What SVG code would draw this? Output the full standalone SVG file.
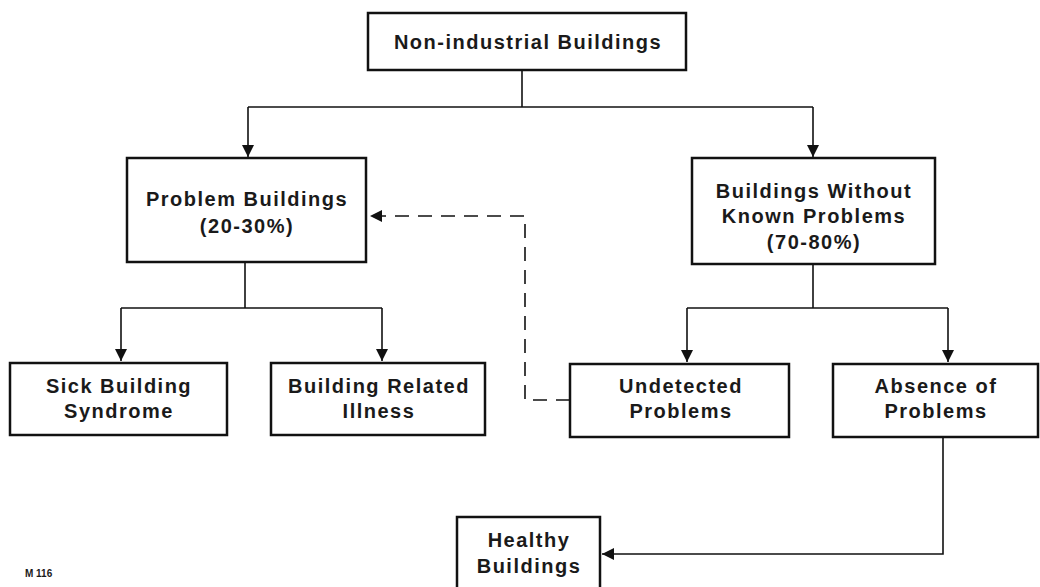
<svg xmlns="http://www.w3.org/2000/svg" width="1040" height="587" viewBox="0 0 1040 587">
<defs>
<style>
.box{fill:#fff;stroke:#111;stroke-width:2.5}
.t{font-family:"Liberation Sans",Arial,sans-serif;font-size:20px;font-weight:bold;fill:#1a1a1a;text-anchor:middle;letter-spacing:1.5px}
.c{fill:none;stroke:#111;stroke-width:1.6}
.d{fill:none;stroke:#111;stroke-width:1.6;stroke-dasharray:14 9}
.m{font-family:"Liberation Sans",Arial,sans-serif;font-size:10px;font-weight:bold;fill:#1a1a1a}
</style>
<marker id="ah" viewBox="0 0 10 10" refX="10" refY="5" markerWidth="12" markerHeight="12" markerUnits="userSpaceOnUse" orient="auto">
<path d="M0,0 L10,5 L0,10 z" fill="#111"/>
</marker>
</defs>
<rect width="1040" height="587" fill="#fff"/>
<g id="connectors">
<path class="c" d="M522,70 V107"/>
<path class="c" d="M248,107 H813"/>
<path class="c" d="M248,107 V157" marker-end="url(#ah)"/>
<path class="c" d="M813,107 V157" marker-end="url(#ah)"/>
<path class="c" d="M245,262 V308"/>
<path class="c" d="M121,308 H382"/>
<path class="c" d="M121,308 V361" marker-end="url(#ah)"/>
<path class="c" d="M382,308 V361" marker-end="url(#ah)"/>
<path class="c" d="M813,264 V308"/>
<path class="c" d="M687,308 H948"/>
<path class="c" d="M687,308 V362" marker-end="url(#ah)"/>
<path class="c" d="M948,308 V362" marker-end="url(#ah)"/>
<path class="c" d="M943,437 V554 H602" marker-end="url(#ah)"/>
<path class="d" d="M570,400 H525 V216 H370" marker-end="url(#ah)"/>
</g>
<g id="n-nonindustrial">
<rect class="box" x="368" y="13" width="318" height="57"/>
<text class="t" x="528" y="49">Non-industrial Buildings</text>
</g>
<g id="n-problem">
<rect class="box" x="127" y="158" width="239" height="104"/>
<text class="t" x="247" y="206">Problem Buildings</text>
<text class="t" x="247" y="233">(20-30%)</text>
</g>
<g id="n-without">
<rect class="box" x="692" y="158" width="243" height="106"/>
<text class="t" x="814" y="198">Buildings Without</text>
<text class="t" x="814" y="223">Known Problems</text>
<text class="t" x="814" y="249">(70-80%)</text>
</g>
<g id="n-sbs">
<rect class="box" x="10" y="363" width="217" height="72"/>
<text class="t" x="119" y="393">Sick Building</text>
<text class="t" x="119" y="418">Syndrome</text>
</g>
<g id="n-bri">
<rect class="box" x="271" y="363" width="214" height="72"/>
<text class="t" x="379" y="393">Building Related</text>
<text class="t" x="379" y="418">Illness</text>
</g>
<g id="n-undetected">
<rect class="box" x="570" y="364" width="219" height="73"/>
<text class="t" x="681" y="393">Undetected</text>
<text class="t" x="681" y="418">Problems</text>
</g>
<g id="n-absence">
<rect class="box" x="833" y="364" width="205" height="73"/>
<text class="t" x="936" y="393">Absence of</text>
<text class="t" x="936" y="418">Problems</text>
</g>
<g id="n-healthy">
<rect class="box" x="457" y="517" width="143" height="72"/>
<text class="t" x="529" y="547">Healthy</text>
<text class="t" x="529" y="573">Buildings</text>
</g>
<text class="m" x="25" y="577">M 116</text>
</svg>
